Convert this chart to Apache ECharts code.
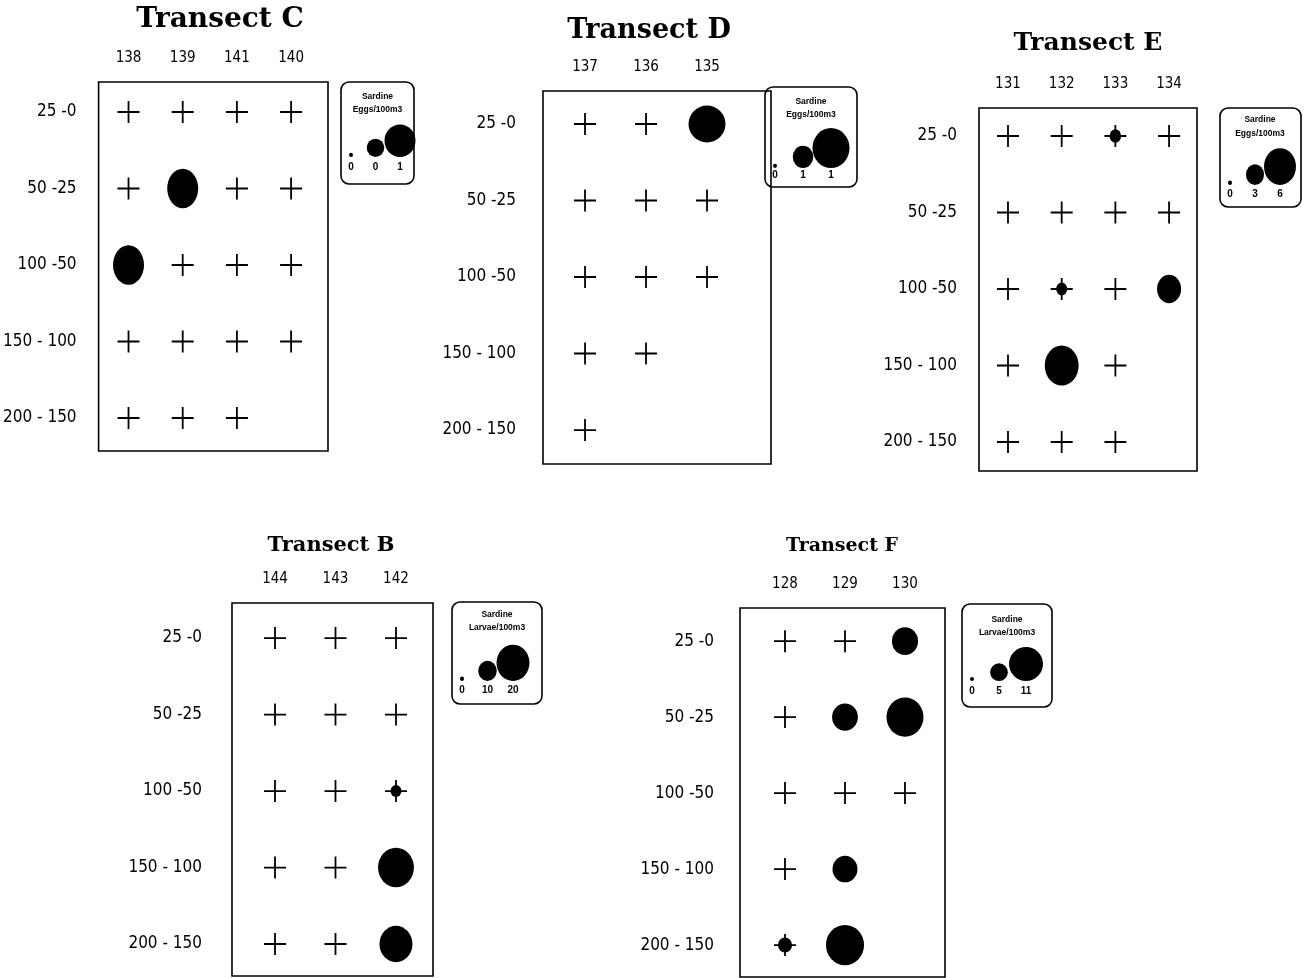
<!DOCTYPE html>
<html>
<head>
<meta charset="utf-8">
<script src="https://cdn.jsdelivr.net/npm/echarts@6/dist/echarts.min.js"></script>
<style>
  html, body { margin: 0; background: #fff; }
  #main { width: 1307px; height: 978px; }
</style>
</head>
<body>
<div id="main"></div>
<script>
// depth bins (m), shared by every transect
const depths = ['25 -0', '50 -25', '100 -50', '150 - 100', '200 - 150'];

// station numbers along the top of each transect
const stationsC = ['138', '139', '141', '140'];
const stationsD = ['137', '136', '135'];
const stationsE = ['131', '132', '133', '134'];
const stationsB = ['144', '143', '142'];
const stationsF = ['128', '129', '130'];

// rows = depth bins, cols = stations
// null = not sampled, 0 = sampled but none caught (cross), >0 = density (circle)
const valuesC = [
  [0, 0, 0, 0],
  [0, 1, 0, 0],
  [1, 0, 0, 0],
  [0, 0, 0, 0],
  [0, 0, 0, null],
];
const valuesD = [
  [0, 0, 1],
  [0, 0, 0],
  [0, 0, 0],
  [0, 0, null],
  [0, null, null],
];
const valuesE = [
  [0, 0, 1.6, 0],
  [0, 0, 0, 0],
  [0, 1.5, 0, 4.3],
  [0, 6.4, 0, null],
  [0, 0, 0, null],
];
const valuesB = [
  [0, 0, 0],
  [0, 0, 0],
  [0, 0, 4.8],
  [0, 0, 22],
  [0, 0, 20],
];
const valuesF = [
  [0, 0, 8.1],
  [0, 8, 12.1],
  [0, 0, 0],
  [0, 7.7, null],
  [3.7, 12.5, null],
];

// bubble legends
const legendC = [0, 0.5, 1];
const legendLabelsC = ['0', '0', '1'];
const legendD = [0, 0.5, 1];
const legendLabelsD = ['0', '1', '1'];
const legendE = [0, 3, 6];
const legendLabelsE = ['0', '3', '6'];
const legendB = [0, 10, 20];
const legendLabelsB = ['0', '10', '20'];
const legendF = [0, 5, 11];
const legendLabelsF = ['0', '5', '11'];

const NARROW = '"Liberation Sans Narrow", "DejaVu Sans Condensed", "Arial Narrow", sans-serif';
const CROSS = 'path://M10.1,0h1.8v10.1h10.1v1.8h-10.1v10.1h-1.8v-10.1h-10.1v-1.8h10.1z';

const panels = [
  { title: 'Transect C', stations: stationsC, values: valuesC, legend: legendC, legendLabels: legendLabelsC, unit: 'Eggs/100m3',
    box: [98, 82, 230, 369], xr: [-0.552, 3.681], yr: [-0.392, 4.431], rowMargin: 22,
    head: [220, 20, 28], maxW: 31, aspect: 1.28, legAspect: 1.05,
    legBox: [341, 82, 73, 102], legText: [377.5, 97, 110], legGrid: [338.75, 157, 73.5], legMargin: 5 },
  { title: 'Transect D', stations: stationsD, values: valuesD, legend: legendD, legendLabels: legendLabelsD, unit: 'Eggs/100m3',
    box: [543, 91, 228, 373], xr: [-0.689, 3.049], yr: [-0.431, 4.444], rowMargin: 27,
    head: [649, 31, 27], maxW: 37, aspect: 1.0, legAspect: 1.08,
    legBox: [765, 87, 92, 100], legText: [811, 102, 115], legGrid: [761, 168, 84], legMargin: 2 },
  { title: 'Transect E', stations: stationsE, values: valuesE, legend: legendE, legendLabels: legendLabelsE, unit: 'Eggs/100m3',
    box: [979, 108, 218, 363], xr: [-0.54, 3.52], yr: [-0.366, 4.379], rowMargin: 22,
    head: [1088, 43, 25], maxW: 32, aspect: 1.18, legAspect: 1.15,
    legBox: [1220, 108, 81, 99], legText: [1260, 120, 134], legGrid: [1217.5, 185, 75], legMargin: 4 },
  { title: 'Transect B', stations: stationsB, values: valuesB, legend: legendB, legendLabels: legendLabelsB, unit: 'Larvae/100m3',
    box: [232, 603, 201, 373], xr: [-0.711, 2.612], yr: [-0.458, 4.418], rowMargin: 30,
    head: [331, 546, 21], maxW: 33, aspect: 1.1, legAspect: 1.1,
    legBox: [452, 602, 90, 102], legText: [497, 615, 628], legGrid: [449.25, 681, 76.5], legMargin: 4 },
  { title: 'Transect F', stations: stationsF, values: valuesF, legend: legendF, legendLabels: legendLabelsF, unit: 'Larvae/100m3',
    box: [740, 608, 205, 369], xr: [-0.75, 2.667], yr: [-0.436, 4.42], rowMargin: 26,
    head: [842, 546, 19], maxW: 34, aspect: 1.06, legAspect: 1.0,
    legBox: [962, 604, 90, 103], legText: [1007, 620, 633], legGrid: [958.5, 681, 81], legMargin: 5 },
];

function bubble(p, v, aspect) {
  const vmax = Math.max(...p.legend);
  const w = 4 + (p.maxW - 4) * v / vmax;
  return [w, w * aspect];
}

const grid = [], xAxis = [], yAxis = [], series = [], graphic = [];
const ink = { color: '#000', opacity: 1 };

panels.forEach((p, i) => {
  const [l, t, w, h] = p.box;
  grid.push({ left: l, top: t, width: w, height: h, show: true, borderColor: '#000', borderWidth: 1.6 });
  xAxis.push({
    gridIndex: i, type: 'value', position: 'top', min: p.xr[0], max: p.xr[1],
    axisLine: { show: false }, axisTick: { show: false }, splitLine: { show: false },
    axisLabel: { customValues: p.stations.map((_, k) => k), formatter: v => p.stations[v],
      color: '#000', fontFamily: NARROW, fontSize: 15, margin: 16 },
  });
  yAxis.push({
    gridIndex: i, type: 'value', inverse: true, min: p.yr[0], max: p.yr[1],
    axisLine: { show: false }, axisTick: { show: false }, splitLine: { show: false },
    axisLabel: { customValues: depths.map((_, k) => k), formatter: v => depths[v],
      color: '#000', fontFamily: NARROW, fontSize: 17, margin: p.rowMargin },
  });

  const crosses = [], dots = [];
  p.values.forEach((row, r) => row.forEach((v, c) => {
    if (v === null) return;
    crosses.push([c, r]);
    if (v > 0) dots.push([c, r, v]);
  }));
  series.push({
    type: 'scatter', xAxisIndex: i, yAxisIndex: i, data: crosses,
    symbol: CROSS, symbolSize: 22, itemStyle: ink, silent: true,
  });
  series.push({
    type: 'scatter', xAxisIndex: i, yAxisIndex: i, data: dots,
    symbol: 'circle', symbolSize: val => bubble(p, val[2], p.aspect),
    itemStyle: ink, silent: true,
  });

  graphic.push({
    type: 'text', x: p.head[0], y: p.head[1],
    style: { text: p.title, fill: '#000', font: `bold ${p.head[2]}px "DejaVu Serif", serif`,
      textAlign: 'center', textVerticalAlign: 'middle' },
  });
  const [bx, by, bw, bh] = p.legBox;
  graphic.push({
    type: 'rect', shape: { x: bx, y: by, width: bw, height: bh, r: 8 },
    style: { fill: '#fff', stroke: '#000', lineWidth: 1.6 }, z: -1,
  });
  graphic.push({
    type: 'text', x: p.legText[0], y: p.legText[1],
    style: { text: 'Sardine', fill: '#000', font: 'bold 8.5px "Liberation Sans", sans-serif', textAlign: 'center', textVerticalAlign: 'middle' },
  });
  graphic.push({
    type: 'text', x: p.legText[0], y: p.legText[2],
    style: { text: p.unit, fill: '#000', font: 'bold 8.5px "Liberation Sans", sans-serif', textAlign: 'center', textVerticalAlign: 'middle' },
  });
});

// bubble legends, one small grid each
panels.forEach((p, i) => {
  const gi = panels.length + i;
  const [gl, gb, gw] = p.legGrid;
  grid.push({ left: gl, top: gb - 30, width: gw, height: 30, show: false });
  xAxis.push({
    gridIndex: gi, type: 'value', min: -0.5, max: p.legend.length - 0.5,
    axisLine: { show: false }, axisTick: { show: false }, splitLine: { show: false },
    axisLabel: { customValues: p.legend.map((_, k) => k), formatter: v => p.legendLabels[v],
      color: '#000', fontFamily: '"Liberation Sans", sans-serif', fontWeight: 'bold', fontSize: 10, margin: p.legMargin },
  });
  yAxis.push({ gridIndex: gi, type: 'value', min: 0, max: 1, show: false });
  series.push({
    type: 'scatter', xAxisIndex: gi, yAxisIndex: gi, silent: true,
    data: p.legend.map((v, k) => {
      const s = bubble(p, v, p.legAspect);
      return { value: [k, 0, v], symbolSize: s, symbolOffset: [0, -s[1] / 2] };
    }),
    symbol: 'circle', itemStyle: ink,
  });
});

const chart = echarts.init(document.getElementById('main'));
chart.setOption({ animation: false, grid, xAxis, yAxis, series, graphic });
</script>
</body>
</html>
